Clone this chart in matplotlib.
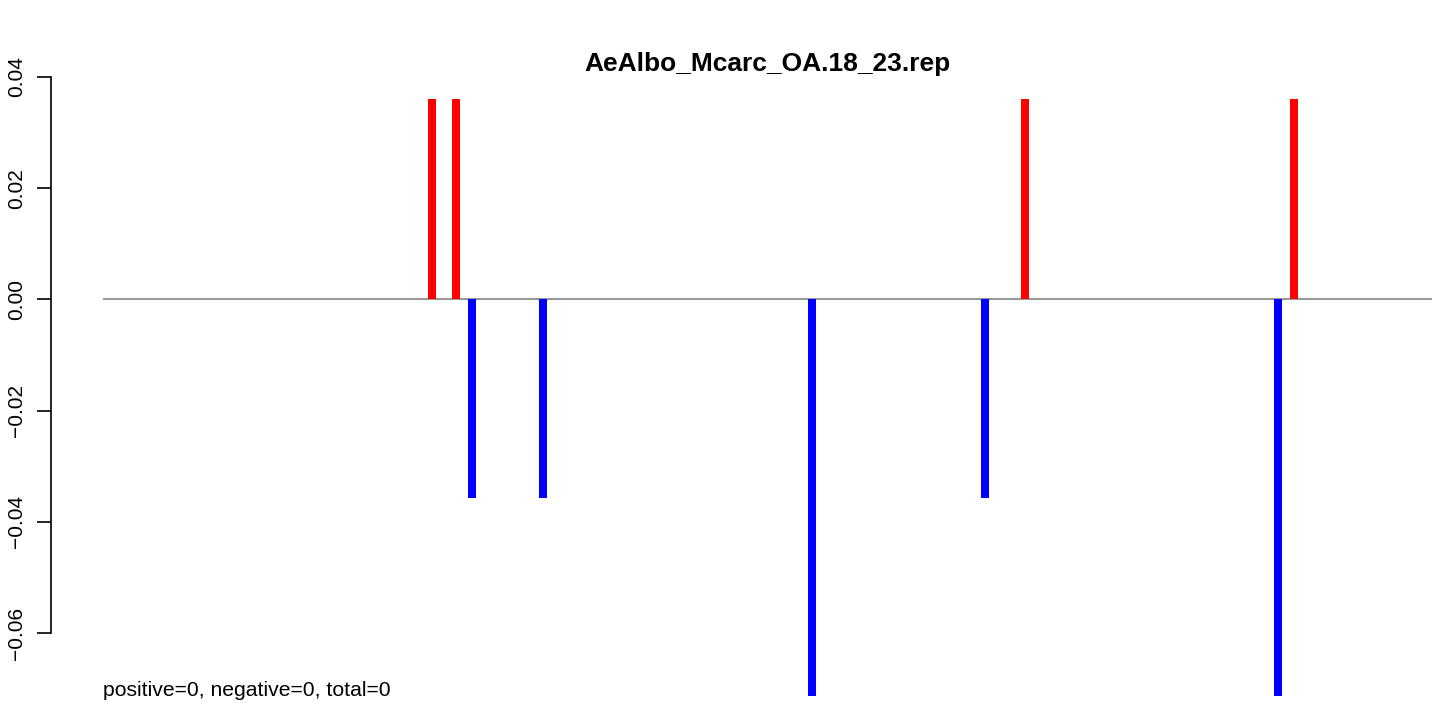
import matplotlib
matplotlib.use("Agg")
import matplotlib.pyplot as plt

# Data
positions = [381, 405, 421, 492, 761, 934, 974, 1227, 1243]
values = [0.036, 0.036, -0.0357, -0.0357, -0.0714, -0.0357, 0.036, -0.0714, 0.036]
line_start, line_end = 52, 1381
yticks = [-0.06, -0.04, -0.02, 0.00, 0.02, 0.04]
ytick_labels = ["\u22120.06", "\u22120.04", "\u22120.02", "0.00", "0.02", "0.04"]
title = "AeAlbo_Mcarc_OA.18_23.rep"
note = "positive=0, negative=0, total=0"

W, H = 1439, 703
fig = plt.figure(figsize=(W / 100, H / 100), dpi=100)
plt.rcParams['font.family'] = ['Liberation Sans', 'DejaVu Sans']

# axes: from pixel x=51 to 1439, y=77 (0.04) to 703
ax = fig.add_axes([51 / W, 0, (W - 51) / W, (H - 77) / H])
ax.set_xlim(0, W - 51)
ax.set_ylim(0.04 - (H - 77) / 5560.0, 0.04)

colors = ['red' if v > 0 else 'blue' for v in values]
ax.hlines(0, line_start, line_end, color='#999999', linewidth=1.5, zorder=1)
ax.bar(positions, values, width=8, color=colors, linewidth=0, zorder=2)

for s in ['top', 'right', 'bottom']:
    ax.spines[s].set_visible(False)
ax.spines['left'].set_bounds(-0.06, 0.04)
ax.spines['left'].set_linewidth(1.2)
ax.set_xticks([])
ax.set_yticks(yticks)
ax.set_yticklabels(ytick_labels, rotation=90, va='center', fontsize=15)
ax.tick_params(axis='y', length=10, width=1.2, pad=8)

fig.text(767.5 / W, 1 - 64 / H, title, ha='center', va='center',
         fontsize=19, fontweight='bold')
fig.text(103 / W, 1 - 690 / H, note, ha='left', va='center', fontsize=15.2)

fig.savefig("out.png", dpi=100)
